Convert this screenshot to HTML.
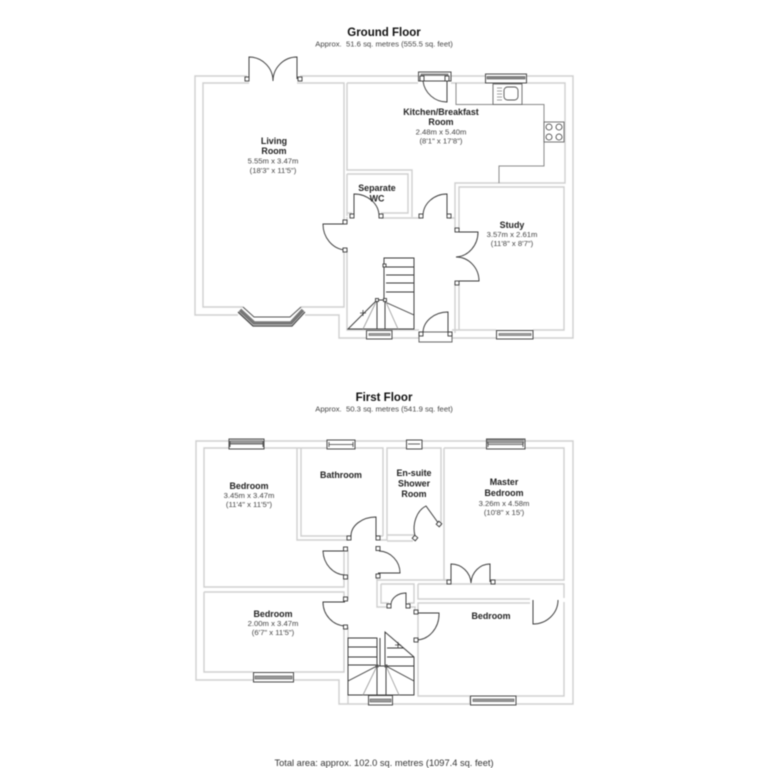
<!DOCTYPE html>
<html><head><meta charset="utf-8"><style>
html,body{margin:0;padding:0;background:#fff;width:768px;height:768px;overflow:hidden}
svg{display:block;filter:blur(.45px)}
.w{fill:none;stroke:#d0d0d0;stroke-width:1.4}
.k{fill:none;stroke:#8a8a8a;stroke-width:1}
.d{fill:none;stroke:#3a3a3a;stroke-width:.95}
.g{fill:none;stroke:#a0a0a0;stroke-width:.9}
.s{fill:#fff;stroke:#3a3a3a;stroke-width:.9}
.win{fill:#fff;stroke:#4a4a4a;stroke-width:1}
.bar{fill:#aaa;stroke:#555;stroke-width:.6}
text{font-family:"Liberation Sans",sans-serif;text-anchor:middle;fill:#222}
.t{font-size:11.5px;font-weight:bold;fill:#111}
.a{font-size:7.7px;fill:#444}
.l{font-size:8.9px;font-weight:bold;fill:#222}
.m{font-size:7.7px;fill:#444}
</style></head><body>
<svg width="768" height="768" viewBox="0 0 768 768" xmlns="http://www.w3.org/2000/svg">
<rect width="768" height="768" fill="#fff"/>

<!-- GROUND FLOOR WALLS -->
<path class="w" d="M247,76H195V315H238M305,315H339V338H366M392,338H419M452,338H496M533,338H573V76H527M485,76H451M418,76H300"/>
<path class="w" d="M249,83H203V307H243M301,307H344V252M344,220V83H297"/>
<path class="w" d="M347,83V170H412V217M347,174V216M347,174H408V213H381M347,213H352M381,218H421M449,218H455V183H565V83H527M485,83H451M418,83H347"/>
<path class="w" d="M459,230V187H564V330H533M496,330H459V283M455,218V230M455,283V333M347,250V330H366M392,330H419M452,330H459M347,217V222"/>
<path class="k" d="M456,83V104.500H544V166H499V183"/>

<!-- sink + hob -->
<rect class="g" x="493" y="84" width="29" height="20.500" style="stroke:#666"/>
<rect class="g" x="504" y="87" width="14" height="13" rx="3.500" style="stroke:#555"/>
<path class="g" d="M497,88H502M497,91H502M497,94H502M497,97H502M497,100H502"/>
<rect x="544" y="122" width="20" height="20" fill="#fff" stroke="#666" stroke-width=".9"/>
<circle class="d" style="stroke-width:.8" cx="549" cy="127" r="3"/>
<circle class="d" style="stroke-width:.8" cx="559" cy="127" r="3"/>
<circle class="d" style="stroke-width:.8" cx="549" cy="137" r="3"/>
<circle class="d" style="stroke-width:.8" cx="559" cy="137" r="3"/>

<!-- ground windows -->
<rect class="win" x="485.500" y="74" width="41" height="9"/>
<rect class="bar" x="487" y="76.500" width="38" height="2.500" style="fill:#888"/>
<rect class="win" x="366.500" y="330.500" width="25.500" height="8.500"/>
<rect class="bar" x="369" y="333.500" width="21" height="2"/>
<rect class="win" x="496.500" y="330.500" width="36.500" height="8.500"/>
<rect class="bar" x="499" y="333.500" width="32" height="2"/>

<!-- bay window -->
<path d="M238,312L253,326H292L305,312" fill="none" stroke="#444" stroke-width="1.200"/>
<path d="M240,310L254,323H291L303,310" fill="none" stroke="#777" stroke-width="3.600"/>
<path d="M243,307L254,317H290L301,307" fill="none" stroke="#555" stroke-width="1"/>

<!-- ground doors -->
<rect class="win" x="418.500" y="72" width="32.500" height="9"/>
<rect class="bar" x="421" y="74" width="27" height="1.500" style="fill:#999"/>
<path class="d" d="M447,81V102A24,24 0 0 1 423,81"/>
<rect class="s" x="420" y="76" width="4" height="5"/><rect class="s" x="445" y="76" width="4" height="5"/>

<path class="d" d="M249,79V57A24,24 0 0 1 273,81A24,24 0 0 1 297,57V79"/>
<rect class="s" x="245" y="77" width="4" height="4"/><rect class="s" x="298" y="77" width="4" height="4"/>

<path class="d" d="M354,216V194A25,22 0 0 1 379,216"/>
<rect class="s" x="350" y="214" width="4" height="4"/><rect class="s" x="379" y="214" width="4" height="4"/>

<path class="d" d="M447,216V194A24,22 0 0 0 423,216"/>
<rect class="s" x="419" y="214" width="4" height="4"/><rect class="s" x="447" y="214" width="4" height="4"/>

<path class="d" d="M345,224H323A24,26 0 0 0 345,250"/>
<rect class="s" x="343" y="220" width="4" height="4"/><rect class="s" x="343" y="248" width="4" height="4"/>

<path class="d" d="M459,232H478A23,25 0 0 1 456,257A23,24 0 0 1 479,281H459"/>
<rect class="s" x="455" y="228" width="4" height="4"/><rect class="s" x="455" y="281" width="4" height="4"/>

<rect class="win" x="419" y="332" width="33" height="10" style="stroke:#666"/>
<path class="d" d="M448,333V312A25,21 0 0 0 423,333"/>
<rect class="s" x="419" y="332" width="4" height="4"/><rect class="s" x="448" y="332" width="4" height="4"/>

<!-- ground stairs -->
<path class="d" d="M384,267V258H414V329H348L377,300V329M385,300V329M377,300H385M385,302L414,315M384,267H414M386,275H414M386,283H414M386,292H414M384,267V300"/>
<path class="g" d="M377,300L363,329M385,300L398,329"/>
<path class="d" d="M360,313L366,313M363,310L363,316" style="stroke-width:.8"/>
<rect class="s" x="383" y="264" width="3" height="3"/><rect class="s" x="375.500" y="298.500" width="3" height="3"/><rect class="s" x="383.500" y="298.500" width="3" height="3"/>

<!-- FIRST FLOOR WALLS -->
<path class="w" d="M229,441H196V680H253M294,680H339V704H368M393,704H470M516,704H573V441H525M486,441H422M406,441H355M327,441H264"/>
<path class="w" d="M229,448H204V587H344V552M264,448H327M355,448H383V536M204,592H344V599M204,592V672H253M294,672H344V627"/>
<path class="w" d="M297,448V540H349M301,448V536H351M376,536H383M380,540H387V448H406M422,448H441V526M387,535H415M387,541H413"/>
<path class="w" d="M444,448H486M525,448H564V580H493M444,448V580H449M490,580H493M451,580H444"/>
<path class="w" d="M348,550V600M348,627V638M377,576V580H449M377,580V607H389M381,584V603H389M381,584H414V603H408M408,607H415V612M418,584H564V598M418,584V599H530M564,602V696H516M470,696H418V603H530M418,640V696M470,704V696M348,695V704"/>

<!-- first floor windows -->
<rect class="win" x="229" y="439" width="35" height="10"/><rect class="bar" x="230" y="440" width="33" height="3.500" style="fill:#999;stroke:none"/><path class="d" style="stroke-width:.8" d="M230,444H263M230,441V447M263,441V447"/>
<rect class="win" x="327" y="440" width="28" height="9"/><path class="d" style="stroke-width:.8" d="M329,444.500H353M329,442V447M353,442V447"/>
<rect class="win" x="406.500" y="440" width="15.500" height="9"/><path class="d" style="stroke-width:.8" d="M408,444H420"/>
<rect class="win" x="486.500" y="439" width="38.500" height="10"/><rect class="bar" x="487" y="439.500" width="37" height="4" style="fill:#999;stroke:none"/><path class="d" style="stroke-width:.8" d="M488,444.500H523M488,442V447M523,442V447"/>
<rect class="win" x="253.500" y="672.500" width="40" height="9.500"/><rect class="bar" x="255" y="676" width="37" height="3" style="fill:#999"/>
<rect class="win" x="368.500" y="695.500" width="24" height="9.500"/><rect class="bar" x="370" y="699" width="21" height="3" style="fill:#999"/>
<rect class="win" x="470.500" y="696" width="45.500" height="9"/><rect class="bar" x="473" y="699" width="41" height="2.500" style="fill:#999"/>

<!-- first floor doors -->
<path class="d" d="M376,536V517A25,19 0 0 0 351,536"/>
<rect class="s" x="347" y="536" width="4" height="4"/><rect class="s" x="376" y="536" width="4" height="4"/>

<path class="d" d="M345,551H323A23,25 0 0 0 345,575"/>
<rect class="s" x="343.500" y="547" width="4" height="4"/><rect class="s" x="343.500" y="575" width="4" height="4"/>

<path class="d" d="M378,573H400A22,22 0 0 0 379,551"/>
<rect class="s" x="376" y="546.500" width="4" height="4"/><rect class="s" x="376" y="574" width="4" height="4"/>

<path class="d" d="M345,602H323A23,24 0 0 0 345,626"/>
<rect class="s" x="343.500" y="597" width="4" height="4"/><rect class="s" x="343.500" y="625" width="4" height="4"/>

<path class="d" d="M406,604V593A15,12 0 0 0 391,604"/>
<rect class="s" x="387" y="604" width="4" height="4"/><rect class="s" x="406" y="604" width="4" height="4"/>

<path class="d" d="M416,613H439A23,26 0 0 1 416,640"/>
<rect class="s" x="414" y="610" width="4" height="4"/><rect class="s" x="414" y="638" width="4" height="4"/>

<path class="d" d="M451,582V564A20,20 0 0 1 471,583A19,20 0 0 1 490,564V582"/>
<rect class="s" x="447" y="580" width="4" height="4"/><rect class="s" x="491" y="580" width="4" height="4"/>

<path class="d" d="M439,524L426,506A18,24 0 0 0 415,536"/>
<rect class="s" x="413" y="536" width="4" height="4" transform="rotate(40 415 538)"/><rect class="s" x="437" y="522" width="4" height="4" transform="rotate(40 439 524)"/>

<path class="d" d="M533,600V624A25,24 0 0 0 558,600"/>

<!-- first floor stairs -->
<path class="d" d="M377,666V638H348V695H414V657L385,632V666M348,647H377M348,657H377M348,665H377M348,681L377,666V695M386,666V695M377,666H386M386,666L414,681M387,648H404M387,657H414M387,666H414M380,638V666"/>
<path class="g" d="M377,666L363,695M386,666L399,695"/>
<path class="d" style="stroke-width:.8" d="M395,645L401,645M398,642V648"/>
<rect x="375.500" y="664.500" width="3" height="3" fill="#555"/><rect x="384.500" y="664.500" width="3" height="3" fill="#555"/>

<!-- TEXT -->
<text class="t" x="384" y="36">Ground Floor</text>
<text class="a" x="384" y="46.500" xml:space="preserve">Approx.  51.6 sq. metres (555.5 sq. feet)</text>
<text class="l" x="274" y="144">Living</text>
<text class="l" x="274" y="154">Room</text>
<text class="m" x="273" y="163.500">5.55m x 3.47m</text>
<text class="m" x="273" y="173">(18'3" x 11'5")</text>
<text class="l" x="441" y="115">Kitchen/Breakfast</text>
<text class="l" x="441" y="125">Room</text>
<text class="m" x="441" y="134.500">2.48m x 5.40m</text>
<text class="m" x="441" y="143.500">(8'1" x 17'8")</text>
<text class="l" x="377" y="191">Separate</text>
<text class="l" x="377" y="201.500">WC</text>
<text class="l" x="512" y="228">Study</text>
<text class="m" x="512" y="237">3.57m x 2.61m</text>
<text class="m" x="512" y="246">(11'8" x 8'7")</text>

<text class="t" x="384" y="401">First Floor</text>
<text class="a" x="384" y="411.500" xml:space="preserve">Approx.  50.3 sq. metres (541.9 sq. feet)</text>
<text class="l" x="249" y="489">Bedroom</text>
<text class="m" x="249" y="498">3.45m x 3.47m</text>
<text class="m" x="249" y="507">(11'4" x 11'5")</text>
<text class="l" x="341" y="478">Bathroom</text>
<text class="l" x="414" y="476">En-suite</text>
<text class="l" x="414" y="486.500">Shower</text>
<text class="l" x="414" y="497">Room</text>
<text class="l" x="504" y="485">Master</text>
<text class="l" x="504" y="496">Bedroom</text>
<text class="m" x="504" y="506">3.26m x 4.58m</text>
<text class="m" x="504" y="515">(10'8" x 15')</text>
<text class="l" x="273" y="617">Bedroom</text>
<text class="m" x="273" y="626">2.00m x 3.47m</text>
<text class="m" x="273" y="635">(6'7" x 11'5")</text>
<text class="l" x="491" y="619">Bedroom</text>
<text x="384" y="766" style="font-size:9.300px;fill:#333">Total area: approx. 102.0 sq. metres (1097.4 sq. feet)</text>
</svg>
</body></html>
